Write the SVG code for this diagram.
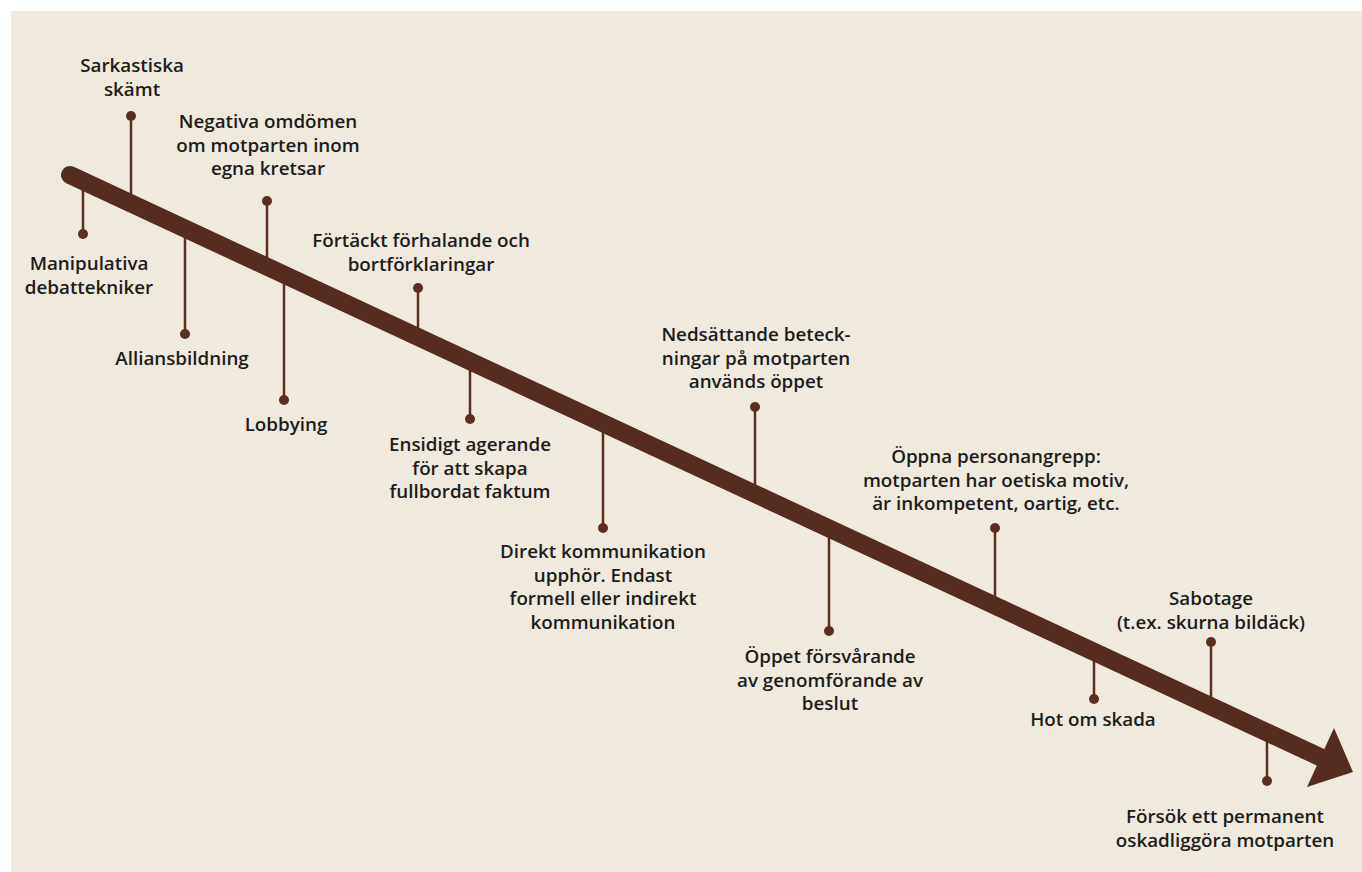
<svg xmlns="http://www.w3.org/2000/svg" width="1362" height="872" viewBox="0 0 1362 872">
<style>
.bg{fill:#efeadd}
.arrow{stroke:#552c20;stroke-width:18;stroke-linecap:round;fill:none}
.head{fill:#552c20}
.lead{stroke:#5a2f22;stroke-width:2.5;fill:none}
.dot{fill:#5a2f22}
text{font-family:"Open Sans","Noto Sans","Liberation Sans",sans-serif;font-weight:600;font-size:18.8px;fill:#1c1c1c;text-anchor:middle}
</style>
<rect x="0" y="0" width="1362" height="872" fill="#ffffff"/>
<rect class="bg" x="11" y="11" width="1351" height="861"/>
<g id="connectors">
<line class="lead" x1="83" y1="181" x2="83" y2="234"/>
<line class="lead" x1="131" y1="116" x2="131" y2="204"/>
<line class="lead" x1="185" y1="228" x2="185" y2="334"/>
<line class="lead" x1="267" y1="201" x2="267" y2="267"/>
<line class="lead" x1="284" y1="274" x2="284" y2="400"/>
<line class="lead" x1="418" y1="288" x2="418" y2="337"/>
<line class="lead" x1="470" y1="360" x2="470" y2="419"/>
<line class="lead" x1="603" y1="423" x2="603" y2="528"/>
<line class="lead" x1="755" y1="407" x2="755" y2="494"/>
<line class="lead" x1="829" y1="528" x2="829" y2="631"/>
<line class="lead" x1="995" y1="528" x2="995" y2="606"/>
<line class="lead" x1="1094" y1="651" x2="1094" y2="699"/>
<line class="lead" x1="1211" y1="642" x2="1211" y2="706"/>
<line class="lead" x1="1267" y1="732" x2="1267" y2="781"/>
</g>
<g id="timeline-arrow">
<line class="arrow" x1="70" y1="175" x2="1322" y2="758"/>
<polygon class="head" points="1334,728 1353,772 1307,787"/>
</g>
<g id="node-manipulativa">
<circle class="dot" cx="83" cy="234" r="5"/>
<text x="89" y="270">Manipulativa</text>
<text x="89" y="293.5">debattekniker</text>
</g>
<g id="node-sarkastiska">
<circle class="dot" cx="131" cy="116" r="5"/>
<text x="132" y="72">Sarkastiska</text>
<text x="132" y="95.5">skämt</text>
</g>
<g id="node-alliansbildning">
<circle class="dot" cx="185" cy="334" r="5"/>
<text x="182" y="365">Alliansbildning</text>
</g>
<g id="node-negativa">
<circle class="dot" cx="267" cy="201" r="5"/>
<text x="268" y="128">Negativa omdömen</text>
<text x="268" y="151.5">om motparten inom</text>
<text x="268" y="175">egna kretsar</text>
</g>
<g id="node-lobbying">
<circle class="dot" cx="284" cy="400" r="5"/>
<text x="286" y="431">Lobbying</text>
</g>
<g id="node-fortackt">
<circle class="dot" cx="418" cy="288" r="5"/>
<text x="421" y="247">Förtäckt förhalande och</text>
<text x="421" y="270.5">bortförklaringar</text>
</g>
<g id="node-ensidigt">
<circle class="dot" cx="470" cy="419" r="5"/>
<text x="470" y="451">Ensidigt agerande</text>
<text x="470" y="474.5">för att skapa</text>
<text x="470" y="498">fullbordat faktum</text>
</g>
<g id="node-direkt">
<circle class="dot" cx="603" cy="528" r="5"/>
<text x="603" y="558">Direkt kommunikation</text>
<text x="603" y="581.5">upphör. Endast</text>
<text x="603" y="605">formell eller indirekt</text>
<text x="603" y="628.5">kommunikation</text>
</g>
<g id="node-nedsattande">
<circle class="dot" cx="755" cy="407" r="5"/>
<text x="756" y="341">Nedsättande beteck-</text>
<text x="756" y="364.5">ningar på motparten</text>
<text x="756" y="388">används öppet</text>
</g>
<g id="node-oppet">
<circle class="dot" cx="829" cy="631" r="5"/>
<text x="830" y="663">Öppet försvårande</text>
<text x="830" y="686.5">av genomförande av</text>
<text x="830" y="710">beslut</text>
</g>
<g id="node-oppna">
<circle class="dot" cx="995" cy="528" r="5"/>
<text x="996" y="463">Öppna personangrepp:</text>
<text x="996" y="486.5">motparten har oetiska motiv,</text>
<text x="996" y="510">är inkompetent, oartig, etc.</text>
</g>
<g id="node-hot">
<circle class="dot" cx="1094" cy="699" r="5"/>
<text x="1093" y="726">Hot om skada</text>
</g>
<g id="node-sabotage">
<circle class="dot" cx="1211" cy="642" r="5"/>
<text x="1211" y="605">Sabotage</text>
<text x="1211" y="628.5">(t.ex. skurna bildäck)</text>
</g>
<g id="node-forsok">
<circle class="dot" cx="1267" cy="781" r="5"/>
<text x="1225" y="823">Försök ett permanent</text>
<text x="1225" y="846.5">oskadliggöra motparten</text>
</g>
</svg>
